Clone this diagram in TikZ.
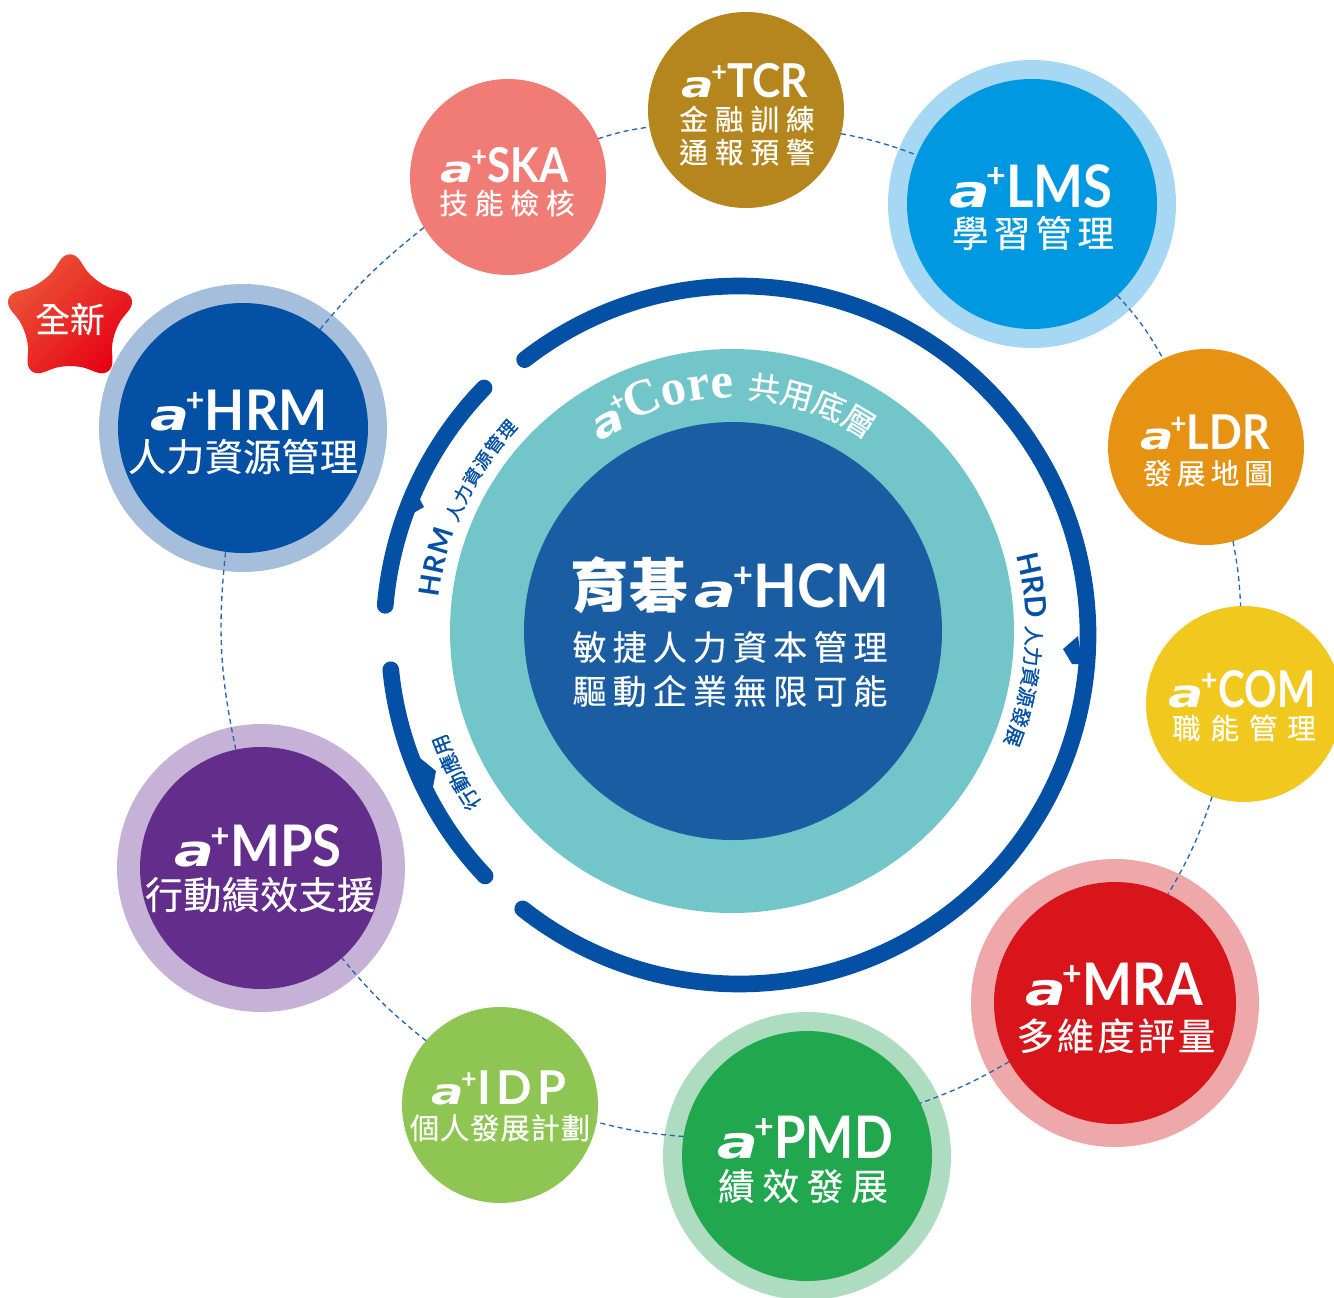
\documentclass[tikz,border=0pt]{standalone}
\usepackage{fontspec}
\usepackage{graphicx}
\usetikzlibrary{shapes.geometric,decorations.text,shadings}
\setmainfont{Lato}
\newfontfamily\zhf[FakeBold=.35]{Noto Sans CJK TC}
\newfontfamily\zhsm[FakeBold=1.1]{Noto Sans CJK TC}
\newfontfamily\zhb{Noto Sans CJK TC}
\newfontfamily\afont{DejaVu Sans}
\newfontfamily\capf{Lato}
\newfontfamily\plusf{Lato}
\newfontfamily\corefont{Liberation Serif}
\newlength\lgsz
% a+ logo: size (pt), horizontal scale, letters
\newcommand\lgo[3]{{\lgsz=#1pt\relax\fontsize{\lgsz}{\lgsz}\selectfont
  \scalebox{1.22}[.9]{\afont\bfseries\itshape\fontsize{.85\lgsz}{\lgsz}\selectfont a}\kern-.07\lgsz
  \raisebox{.33\lgsz}{\plusf\bfseries\fontsize{.58\lgsz}{\lgsz}\selectfont +}\kern.01\lgsz
  \scalebox{#2}[1]{\capf\bfseries #3}}}
% Chinese: size (pt), letterspace, text
\newcommand\zht[3]{{\zhf\addfontfeatures{LetterSpace=#2}\fontsize{#1pt}{#1pt}\selectfont #3}}
\newcommand\smLat{\plusf\bfseries\fontsize{22pt}{22pt}\selectfont\color{arc}}
\newcommand\smLatS{\plusf\bfseries\fontsize{21pt}{21pt}\selectfont\color{arc}}
\newcommand\smZh{\zhsm\fontsize{15pt}{15pt}\selectfont\color{arc}}
\newcommand\smZhS{\zhsm\fontsize{13.6pt}{14pt}\selectfont\color{arc}}
\newcommand\coreLat{\corefont\bfseries\fontsize{38pt}{38pt}\selectfont\color{white}}
\newcommand\coreZh{\zhf\fontsize{24pt}{24pt}\selectfont\color{white}}
\definecolor{arc}{HTML}{0350A4}
\definecolor{teal}{HTML}{72C6C9}
\definecolor{mid}{HTML}{1A5DA2}
\definecolor{dashc}{HTML}{2368AE}
\definecolor{lmsH}{HTML}{A6D8F4}
\definecolor{lmsC}{HTML}{0098E0}
\definecolor{mraH}{HTML}{EFA8A9}
\definecolor{mraC}{HTML}{D7151A}
\definecolor{pmdH}{HTML}{AEDCC0}
\definecolor{pmdC}{HTML}{21A84F}
\definecolor{mpsH}{HTML}{C6B2D6}
\definecolor{mpsC}{HTML}{632D8B}
\definecolor{hrmH}{HTML}{A5BEDB}
\definecolor{tcrC}{HTML}{B5851E}
\definecolor{skaC}{HTML}{F17C76}
\definecolor{ldrC}{HTML}{E69314}
\definecolor{comC}{HTML}{F0C81E}
\definecolor{idpC}{HTML}{8EC553}
\definecolor{starA}{HTML}{EC5B3B}
\definecolor{starB}{HTML}{E60012}
\tikzset{
  disc/.style={circle,inner sep=0,outer sep=0,minimum size=147pt,fill=#1},
  bigdisc/.style={circle,inner sep=0,outer sep=0,minimum size=187.5pt,fill=#1},
  meddisc/.style={circle,inner sep=0,outer sep=0,minimum size=181.5pt,fill=#1},
  halo/.style={circle,inner sep=0,outer sep=0,minimum size=216pt,fill=#1},
  lbl/.style={text=white,inner sep=0,anchor=base},
  link/.style={draw=dashc,line width=1pt,dash pattern=on 3.8pt off 2.8pt},
  band/.style={draw=arc,line width=12.5pt,line cap=round},
  tick/.style={fill=arc,draw=none}
}
\begin{document}
\begin{tikzpicture}[x=.75pt,y=.75pt]
\useasboundingbox (0,0) rectangle (1334,-1297);
% central discs
\node[circle,inner sep=0,minimum size=423pt,fill=teal] (core) at (732,-631) {};
\node[circle,inner sep=0,minimum size=313.5pt,fill=mid] (hcm) at (733,-631) {};
% bands
\draw[band] (739,-635) ++(127.9:349) arc[start angle=127.9,end angle=-128.3,radius=349];
\draw[band] (739,-635) ++(135.9:355) arc[start angle=135.9,end angle=175.2,radius=355];
\draw[band] (739,-635) ++(185.7:350) arc[start angle=185.7,end angle=223.5,radius=350];
\path[tick] (1078,-636) -- (1063,-649) -- (1072,-664) -- (1082,-664) -- cycle;
\path[tick] (416,-492) -- (424,-507) -- (408,-516) -- cycle;
\path[tick] (420,-758) -- (436,-771) -- (433,-787) -- (428,-790) -- cycle;
% halos
\node[halo=lmsH] (lmsring) at (1032,-204) {};
\node[halo=mraH] (mraring) at (1115,-1003) {};
\node[halo=pmdH] (pmdring) at (807,-1156) {};
\node[halo=mpsH] (mpsring) at (261,-868) {};
\node[halo=hrmH] (hrmring) at (243,-428) {};
% discs
\node[disc=tcrC] (tcr) at (746,-110) {};
\node[disc=skaC] (ska) at (508,-177) {};
\node[disc=ldrC] (ldr) at (1206,-447) {};
\node[disc=comC] (com) at (1244,-704) {};
\node[disc=idpC] (idp) at (500,-1105) {};
\node[bigdisc=lmsC] (lms) at (1032,-204) {};
\node[bigdisc=pmdC] (pmd) at (807,-1156) {};
\node[bigdisc=arc] (hrm) at (243,-428) {};
\node[meddisc=mraC] (mra) at (1115,-1003) {};
\node[meddisc=mpsC] (mps) at (261,-868) {};
% dashed ring
\draw[link] (hrm.52) to[bend left=6] (ska.211);
\draw[link] (ska.23) to[bend left=5] (tcr.190);
\draw[link] (tcr.-14) to[bend left=5] (lms.157);
\draw[link] (lms.-47) to[bend left=7] (ldr.116);
\draw[link] (ldr.-74) to[bend left=4] (com.92);
\draw[link] (com.251) to[bend left=6] (mra.64);
\draw[link] (mra.209) to[bend left=5] (pmd.25);
\draw[link] (pmd.171) to[bend left=5] (idp.-10);
\draw[link] (idp.139) to[bend left=6] (mps.-48);
\draw[link] (mps.102) to[bend left=9] (hrm.262);
% star
\node[star,star points=5,star point ratio=1.75,minimum size=112pt,inner sep=0,rounded corners=15pt,
  left color=starA,right color=starB,shading angle=45] (newstar) at (70,-319) {};
\node[lbl,anchor=center] (newtxt) at (70,-319) {\zht{26}{0}{全新}};
% a+ labels
\node[lbl] (tcrlogo) at (745,-97) {\lgo{35}{.92}{TCR}};
\node[lbl] (tcrzh1) at (747,-130) {\zht{21.5}{24}{金融訓練}};
\node[lbl] (tcrzh2) at (747,-163) {\zht{21.5}{24}{通報預警}};
\node[lbl] (skalogo) at (505,-182) {\lgo{36}{.88}{SKA}};
\node[lbl] (skazh) at (507,-214) {\zht{21.5}{24}{技能檢核}};
\node[lbl] (lmslogo) at (1031,-207) {\lgo{44}{.9}{LMS}};
\node[lbl] (lmszh) at (1033,-247) {\zht{27.5}{14}{學習管理}};
\node[lbl] (ldrlogo) at (1205,-449) {\lgo{36}{.9}{LDR}};
\node[lbl] (ldrzh) at (1208,-484) {\zht{21.5}{18}{發展地圖}};
\node[lbl] (comlogo) at (1242,-707) {\lgo{38}{.8}{COM}};
\node[lbl] (comzh) at (1244,-739) {\zht{21.5}{34}{職能管理}};
\node[lbl] (mralogo) at (1114,-1005) {\lgo{44}{.9}{MRA}};
\node[lbl] (mrazh) at (1116,-1050) {\zht{28}{8}{多維度評量}};
\node[lbl] (pmdlogo) at (805,-1158) {\lgo{44}{.87}{PMD}};
\node[lbl] (pmdzh) at (803,-1200) {\zht{27.5}{21}{績效發展}};
\node[lbl] (idplogo) at (499,-1104) {\lgo{35}{1}{I\kern4pt D\kern4pt P}};
\node[lbl] (idpzh) at (500,-1139) {\zht{22}{3}{個人發展計劃}};
\node[lbl] (mpslogo) at (258,-866) {\lgo{43}{.92}{MPS}};
\node[lbl] (mpszh) at (260,-909) {\zht{28.5}{1}{行動績效支援}};
\node[lbl] (hrmlogo) at (239,-430) {\lgo{42}{.93}{HRM}};
\node[lbl] (hrmzh) at (243,-471) {\zht{28.5}{1}{人力資源管理}};
% centre
\node[lbl] (hcmlogo) at (730,-607) {{\zhb\bfseries\fontsize{44pt}{44pt}\selectfont 育碁}\kern5pt\lgo{45}{.95}{HCM}};
\node[lbl] (hcmzh1) at (730,-660) {\zht{25.5}{18}{敏捷人力資本管理}};
\node[lbl] (hcmzh2) at (730,-704) {\zht{25.5}{18}{驅動企業無限可能}};
% curved texts
\begin{scope}[shift={(733,-631)}]
\path[decorate,decoration={text along path,text align={fit to path},
  text={|\coreLat|Core |\coreZh|共用底層}}]
  (116:233) arc[start angle=116,end angle=57.5,radius=233];
\path[decorate,decoration={text along path,text align={fit to path},
  text={|\smLatS|HRM |\smZhS|人力資源管理}}]
  (173.5:296) arc[start angle=173.5,end angle=136.5,radius=296];
\path[decorate,decoration={text along path,text align={fit to path},
  text={|\smLat|HRD |\smZh|人力資源發展}}]
  (15:293) arc[start angle=15,end angle=-22.5,radius=293];
\path[decorate,decoration={text along path,text align={fit to path},
  text={|\smZh|行動應用}}]
  (214.5:305) arc[start angle=214.5,end angle=200,radius=305];
\end{scope}
\node[lbl,anchor=center,rotate=28] (corea) at (609,-424) {\scalebox{1.15}[.95]{\afont\bfseries\itshape\fontsize{31pt}{31pt}\selectfont a}};
\node[lbl,anchor=center,rotate=28] (corep) at (618,-403) {{\plusf\bfseries\fontsize{20pt}{20pt}\selectfont +}};
\end{tikzpicture}
\end{document}
